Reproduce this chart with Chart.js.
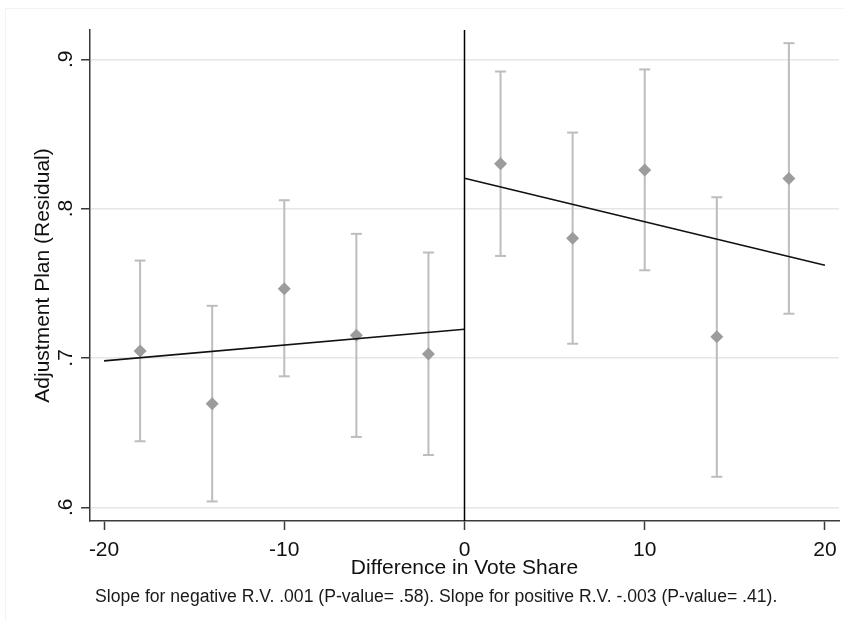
<!DOCTYPE html>
<html>
<head>
<meta charset="utf-8">
<script src="https://cdn.jsdelivr.net/npm/chart.js@4.4.1/dist/chart.umd.min.js"></script>
<style>
  html, body { margin: 0; padding: 0; background: #fff; }
  #wrap { width: 850px; height: 620px; position: relative; }
</style>
</head>
<body>
<div id="wrap"><canvas id="chart" width="850" height="620"></canvas></div>
<script>
// binned means with 95% CI, left and right of the cutoff
const binX = [-18, -14, -10, -6, -2, 2, 6, 10, 14, 18];
const binMean = [0.7046, 0.6694, 0.7464, 0.7152, 0.7027, 0.8300, 0.7801, 0.8259, 0.7142, 0.8201];
const ciLow = [0.6442, 0.6039, 0.6877, 0.6471, 0.6350, 0.7683, 0.7095, 0.7587, 0.6204, 0.7296];
const ciHigh = [0.7652, 0.7349, 0.8056, 0.7831, 0.7706, 0.8918, 0.8509, 0.8932, 0.8076, 0.9108];

// linear fits on each side
const fitLeftX = [-20, 0];
const fitLeftY = [0.6980, 0.7192];
const fitRightX = [0, 20];
const fitRightY = [0.8203, 0.7620];

const cutoff = 0;
const xTicks = [-20, -10, 0, 10, 20];
const yTicks = [0.6, 0.7, 0.8, 0.9];
const xRange = [-20.78, 20.78];
const yRange = [0.5908, 0.9196];

const xTitle = "Difference in Vote Share";
const yTitle = "Adjustment Plan (Residual)";
const note = "Slope for negative R.V. .001 (P-value= .58). Slope for positive R.V. -.003 (P-value= .41).";

const FONT = "'Liberation Sans', Arial, sans-serif";
const BAR_COLOR = "#bdbdbd";
const DOT_COLOR = "#9c9c9c";
const AXIS_COLOR = "#3a3a3a";

function pts(xs, ys) {
  return xs.map((x, i) => ({ x: x, y: ys[i] }));
}

// each CI is its own little two-point line, caps are 'line' point markers
const ciSets = binX.map((x, i) => ({
  type: "line",
  data: [{ x: x, y: ciLow[i] }, { x: x, y: ciHigh[i] }],
  borderColor: BAR_COLOR,
  borderWidth: 2,
  pointStyle: "line",
  pointRadius: 5.5,
  pointBorderWidth: 2,
  pointBorderColor: BAR_COLOR,
  showLine: true,
  order: 3,
}));

// faint graph-region frame (top and left edges only show in the original)
const frame = {
  id: "frame",
  beforeDraw(chart) {
    const { ctx } = chart;
    ctx.save();
    ctx.strokeStyle = "#f2f2f2";
    ctx.lineWidth = 1;
    ctx.beginPath();
    ctx.moveTo(5.5, 620);
    ctx.lineTo(5.5, 8.5);
    ctx.lineTo(843, 8.5);
    ctx.stroke();
    ctx.restore();
  },
};

const cutoffLine = {
  id: "cutoffLine",
  beforeDatasetsDraw(chart) {
    const { ctx, chartArea, scales } = chart;
    const px = scales.x.getPixelForValue(cutoff);
    ctx.save();
    ctx.strokeStyle = "#000";
    ctx.lineWidth = 1.5;
    ctx.beginPath();
    ctx.moveTo(px, chartArea.top);
    ctx.lineTo(px, chartArea.bottom);
    ctx.stroke();
    ctx.restore();
  },
};

const noteText = {
  id: "noteText",
  afterDraw(chart) {
    const { ctx, chartArea } = chart;
    ctx.save();
    ctx.font = "17.6px " + FONT;
    ctx.fillStyle = "#1a1a1a";
    ctx.textBaseline = "middle";
    ctx.textAlign = "left";
    ctx.fillText(note, chartArea.left + 5, 597);
    ctx.restore();
  },
};

new Chart(document.getElementById("chart"), {
  type: "scatter",
  data: {
    datasets: [
      {
        type: "line",
        data: pts(fitLeftX, fitLeftY),
        borderColor: "#111",
        borderWidth: 1.6,
        pointRadius: 0,
        showLine: true,
        order: 1,
      },
      {
        type: "line",
        data: pts(fitRightX, fitRightY),
        borderColor: "#111",
        borderWidth: 1.6,
        pointRadius: 0,
        showLine: true,
        order: 1,
      },
      {
        data: pts(binX, binMean),
        pointStyle: "rectRot",
        pointRadius: 6.5,
        pointBackgroundColor: DOT_COLOR,
        pointBorderColor: DOT_COLOR,
        pointBorderWidth: 0,
        showLine: false,
        order: 2,
      },
      ...ciSets,
    ],
  },
  options: {
    responsive: false,
    animation: false,
    events: [],
    layout: { padding: { top: 30, right: 11, left: 0, bottom: 0 } },
    plugins: {
      legend: { display: false },
      tooltip: { enabled: false },
    },
    scales: {
      x: {
        type: "linear",
        min: xRange[0],
        max: xRange[1],
        afterBuildTicks: (s) => { s.ticks = xTicks.map((v) => ({ value: v })); },
        afterFit: (s) => { s.height = 99; },
        grid: { drawOnChartArea: false, drawTicks: true, tickLength: 9, tickColor: AXIS_COLOR, tickWidth: 1.5 },
        border: { color: AXIS_COLOR, width: 1.5 },
        ticks: { color: "#111", font: { family: FONT, size: 21 }, padding: 8, maxRotation: 0 },
        title: { display: true, text: xTitle, color: "#111", font: { family: FONT, size: 21 }, padding: { top: 0, bottom: 39 } },
      },
      y: {
        type: "linear",
        min: yRange[0],
        max: yRange[1],
        afterBuildTicks: (s) => { s.ticks = yTicks.map((v) => ({ value: v })); },
        afterFit: (s) => { s.width = 90; },
        grid: { color: "#e6e6e6", lineWidth: 1.5, drawTicks: true, tickLength: 9, tickColor: AXIS_COLOR, tickWidth: 1.5 },
        border: { color: AXIS_COLOR, width: 1.5 },
        ticks: {
          color: "#111",
          font: { family: FONT, size: 21 },
          minRotation: 90,
          maxRotation: 90,
          crossAlign: "center",
          padding: 6,
          callback: (v) => v.toFixed(1).replace(/^0/, ""),
        },
        title: { display: true, text: yTitle, color: "#111", font: { family: FONT, size: 21 }, padding: { top: 31, bottom: 0 } },
      },
    },
  },
  plugins: [frame, cutoffLine, noteText],
});
</script>
</body>
</html>
